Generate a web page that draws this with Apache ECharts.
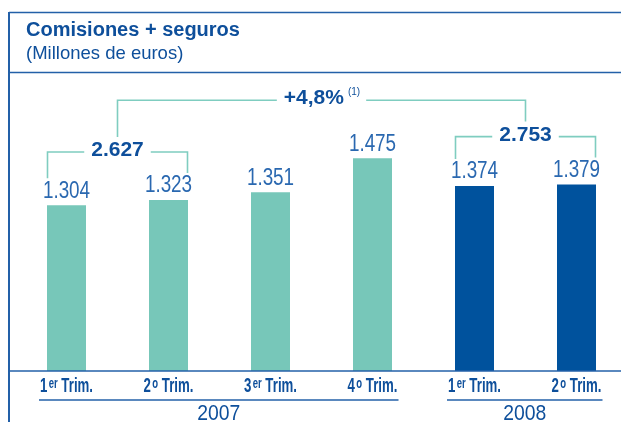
<!DOCTYPE html>
<html><head><meta charset="utf-8">
<script src="https://cdn.jsdelivr.net/npm/echarts@6/dist/echarts.min.js"></script>
<style>html,body{margin:0;padding:0;background:#fff}#c{width:621px;height:422px}</style>
</head><body><div id="c"></div>
<script>
// ---- data ----
const quarters = ['1er Trim.', '2o Trim.', '3er Trim.', '4o Trim.', '1er Trim.', '2o Trim.'];
const years = ['2007', '2008'];
const yearFirstIdx = [0, 4];
const yearLastIdx = [3, 5];
const values2007 = [1304, 1323, 1351, 1475];
const values2008 = [1374, 1379];
const halfTotals = [2627, 2753];
const halfFirstIdx = [0, 4];
const halfLastIdx = [1, 5];
const growthText = '+4,8%';
const growthNote = '(1)';
const titleText = 'Comisiones + seguros';
const subtitleText = '(Millones de euros)';

// ---- styles ----
const Y_MIN = 700, Y_MAX = 1500;
const TEAL = '#77c7b9', NAVY = '#00529d';
const DARK = '#0e4f9b', VALUE = '#2a68b0', BRACKET = '#7fcdc0', FRAME = '#2360a8';
const SANS = "'Liberation Sans', Arial, sans-serif";
const BW = 39;

const allValues = values2007.concat(values2008);
const s2007 = allValues.map((v, i) => i < values2007.length ? v : null);
const s2008 = allValues.map((v, i) => i >= values2007.length ? v : null);
const fmt = n => String(n).replace(/\B(?=(\d{3})+(?!\d))/g, '.');

const chart = echarts.init(document.getElementById('c'), null, {renderer: 'canvas'});

function renderAnno(params, api) {
  const cx = i => api.coord([i, Y_MIN])[0];
  const top = i => api.coord([i, allValues[i]])[1];
  const baseY = api.coord([0, Y_MIN])[1];
  const ls = {stroke: BRACKET, lineWidth: 1.6, fill: null};
  const ch = [];
  const hb = [];
  for (let g = 0; g < halfTotals.length; g++) {
    const s = halfFirstIdx[g], e = halfLastIdx[g];
    const x1 = cx(s) - BW / 2 + 0.5, x2 = cx(e) + BW / 2 - 0.5;
    let mt = Infinity;
    for (let i = s; i <= e; i++) mt = Math.min(mt, top(i));
    const hy = mt - 48;
    ch.push({type: 'polyline', shape: {points: [[x1, top(s) - 27], [x1, hy], [x2, hy], [x2, top(e) - 27]]}, style: ls});
    ch.push({type: 'text', style: {text: fmt(halfTotals[g]), x: (x1 + x2) / 2, y: hy - 1.5, align: 'center', verticalAlign: 'middle',
      font: 'bold 21px ' + SANS, fill: DARK, backgroundColor: '#fff', padding: [2, 7, 2, 7]}});
    hb.push({x: (x1 + x2) / 2, y: hy});
  }
  const ty = Math.min(hb[0].y, hb[1].y) - 36.3;
  ch.push({type: 'polyline', shape: {points: [[hb[0].x, hb[0].y - 15], [hb[0].x, ty], [hb[1].x, ty], [hb[1].x, hb[1].y - 15]]}, style: ls});
  ch.push({type: 'text', style: {text: '{a|' + growthText + '}{b|' + growthNote + '}', x: (hb[0].x + hb[1].x) / 2, y: ty - 2,
    align: 'center', verticalAlign: 'middle', backgroundColor: '#fff', padding: [2, 6, 2, 7],
    rich: {a: {font: 'bold 21px ' + SANS, fill: DARK, lineHeight: 22},
           b: {font: '10px ' + SANS, fill: DARK, verticalAlign: 'top', lineHeight: 10, padding: [0, 0, 0, 4]}}}});
  // axis base line
  ch.push({type: 'line', shape: {x1: 9, y1: baseY, x2: 621, y2: baseY}, style: {stroke: FRAME, lineWidth: 1.5}});
  // quarter labels (condensed)
  for (let i = 0; i < quarters.length; i++) {
    const m = quarters[i].match(/^(\d)(\S+) (.*)$/);
    ch.push({type: 'text', x: cx(i), y: baseY + 16, scaleX: 0.68, style: {
      text: '{n|' + m[1] + '}{s|' + m[2] + '}{t| ' + m[3] + '}', x: 0, y: 0, align: 'center', verticalAlign: 'middle',
      rich: {n: {font: 'bold 19.5px ' + SANS, fill: DARK, lineHeight: 20},
             s: {font: 'bold 14px ' + SANS, fill: DARK, lineHeight: 14, verticalAlign: 'top', padding: [0, 0, 0, 2]},
             t: {font: 'bold 19.5px ' + SANS, fill: DARK, lineHeight: 20}}}});
  }
  // year underlines + labels
  for (let y = 0; y < years.length; y++) {
    const a = cx(yearFirstIdx[y]) - 27.5, b = cx(yearLastIdx[y]) + 26;
    ch.push({type: 'line', shape: {x1: a, y1: baseY + 29, x2: b, y2: baseY + 29}, style: {stroke: FRAME, lineWidth: 1.5}});
    ch.push({type: 'text', x: (a + b) / 2, y: baseY + 43, scaleX: 0.86, style: {text: years[y], x: 0, y: 0, align: 'center', verticalAlign: 'middle',
      font: '22.5px ' + SANS, fill: DARK}});
  }
  return {type: 'group', children: ch};
}

function renderValue(params, api) {
  const p = api.coord([api.value(0), api.value(1)]);
  return {type: 'text', x: p[0], y: p[1] - 14, scaleX: 0.82, style: {text: fmt(api.value(1)), x: 0, y: 0,
    align: 'center', verticalAlign: 'middle', font: '23px ' + SANS, fill: VALUE}};
}

chart.setOption({
  animation: false,
  title: [
    {text: titleText, left: 26, top: 20, padding: 0,
     textStyle: {fontFamily: SANS, fontSize: 20, fontWeight: 'bold', color: DARK, lineHeight: 20}},
    {text: subtitleText, left: 26, top: 44, padding: 0,
     textStyle: {fontFamily: SANS, fontSize: 18.5, fontWeight: 'normal', color: DARK, lineHeight: 20}}
  ],
  graphic: [
    {type: 'line', shape: {x1: 9, y1: 12.5, x2: 621, y2: 12.5}, style: {stroke: FRAME, lineWidth: 1.5}},
    {type: 'line', shape: {x1: 9, y1: 12, x2: 9, y2: 422}, style: {stroke: FRAME, lineWidth: 2}},
    {type: 'line', shape: {x1: 9, y1: 72.5, x2: 621, y2: 72.5}, style: {stroke: FRAME, lineWidth: 1.5}}
  ],
  grid: {left: 15.5, top: 151.4, width: 612, height: 219.6, outerBoundsMode: 'none', containLabel: false},
  xAxis: {type: 'category', data: quarters, boundaryGap: true,
    axisLine: {show: false}, axisTick: {show: false}, axisLabel: {show: false}},
  yAxis: {type: 'value', min: Y_MIN, max: Y_MAX, show: false, splitLine: {show: false}},
  series: [
    {type: 'bar', name: years[0], data: s2007, barWidth: BW, barGap: '-100%', itemStyle: {color: TEAL}},
    {type: 'bar', name: years[1], data: s2008, barWidth: BW, barGap: '-100%', itemStyle: {color: NAVY}},
    {type: 'custom', name: 'values', data: allValues.map((v, i) => [i, v]), renderItem: renderValue, clip: false, silent: true, z: 3},
    {type: 'custom', name: 'annotations', data: [[0, Y_MIN]], renderItem: renderAnno, clip: false, silent: true, z: 3}
  ]
});
</script></body></html>
